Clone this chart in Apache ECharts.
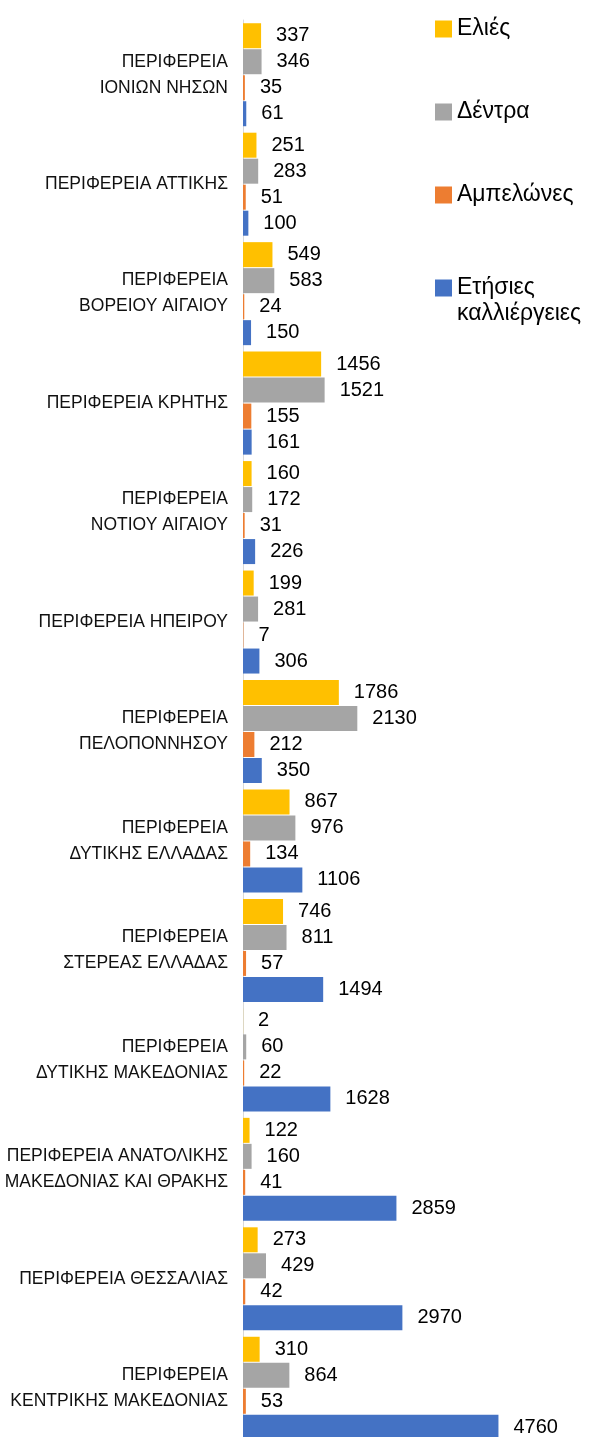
<!DOCTYPE html>
<html>
<head>
<meta charset="utf-8">
<script src="https://cdn.jsdelivr.net/npm/echarts@6/dist/echarts.min.js"></script>
<style>
  html, body { margin: 0; padding: 0; background: #fff; }
  #chart { width: 589px; height: 1437px; }
</style>
</head>
<body>
<div id="chart"></div>
<script>
// Regions, top to bottom
const regions = [
  'ΠΕΡΙΦΕΡΕΙΑ\nΙΟΝΙΩΝ ΝΗΣΩΝ',
  'ΠΕΡΙΦΕΡΕΙΑ ΑΤΤΙΚΗΣ',
  'ΠΕΡΙΦΕΡΕΙΑ\nΒΟΡΕΙΟΥ ΑΙΓΑΙΟΥ',
  'ΠΕΡΙΦΕΡΕΙΑ ΚΡΗΤΗΣ',
  'ΠΕΡΙΦΕΡΕΙΑ\nΝΟΤΙΟΥ ΑΙΓΑΙΟΥ',
  'ΠΕΡΙΦΕΡΕΙΑ ΗΠΕΙΡΟΥ',
  'ΠΕΡΙΦΕΡΕΙΑ\nΠΕΛΟΠΟΝΝΗΣΟΥ',
  'ΠΕΡΙΦΕΡΕΙΑ\nΔΥΤΙΚΗΣ ΕΛΛΑΔΑΣ',
  'ΠΕΡΙΦΕΡΕΙΑ\nΣΤΕΡΕΑΣ ΕΛΛΑΔΑΣ',
  'ΠΕΡΙΦΕΡΕΙΑ\nΔΥΤΙΚΗΣ ΜΑΚΕΔΟΝΙΑΣ',
  'ΠΕΡΙΦΕΡΕΙΑ ΑΝΑΤΟΛΙΚΗΣ\nΜΑΚΕΔΟΝΙΑΣ ΚΑΙ ΘΡΑΚΗΣ',
  'ΠΕΡΙΦΕΡΕΙΑ ΘΕΣΣΑΛΙΑΣ',
  'ΠΕΡΙΦΕΡΕΙΑ\nΚΕΝΤΡΙΚΗΣ ΜΑΚΕΔΟΝΙΑΣ'
];

const seriesNames = ['Ελιές', 'Δέντρα', 'Αμπελώνες', 'Ετήσιες καλλιέργειες'];

const olives   = [337, 251, 549, 1456, 160, 199, 1786, 867, 746, 2, 122, 273, 310];
const trees    = [346, 283, 583, 1521, 172, 281, 2130, 976, 811, 60, 160, 429, 864];
const vineyards = [35, 51, 24, 155, 31, 7, 212, 134, 57, 22, 41, 42, 53];
const annualCrops = [61, 100, 150, 161, 226, 306, 350, 1106, 1494, 1628, 2859, 2970, 4760];

const colors = ['#FFC000', '#A5A5A5', '#ED7D31', '#4472C4'];
const FONT = '"Liberation Sans", Arial, sans-serif';

function barSeries(name, data, color) {
  return {
    name: name,
    type: 'bar',
    data: data,
    barWidth: 25,
    barGap: '4%',
    itemStyle: { color: color },
    label: {
      show: true,
      position: 'right',
      distance: 15,
      fontSize: 20,
      color: '#000',
      fontFamily: FONT
    }
  };
}

// One legend block per series so each entry sits at its own height
function legendItem(name, top, formatter) {
  return {
    data: [name],
    orient: 'vertical',
    left: 435,
    top: top,
    padding: 0,
    icon: 'rect',
    itemWidth: 17,
    itemHeight: 17,
    selectedMode: false,
    formatter: formatter || (n => n),
    textStyle: {
      fontSize: 23,
      lineHeight: 26,
      color: '#000',
      fontFamily: FONT
    }
  };
}

const chart = echarts.init(document.getElementById('chart'), null, { renderer: 'canvas' });

chart.setOption({
  animation: false,
  backgroundColor: '#fff',
  textStyle: { fontFamily: FONT },
  legend: [
    legendItem(seriesNames[0], 16),
    legendItem(seriesNames[1], 99),
    legendItem(seriesNames[2], 182),
    // first line level with the marker, second line below it
    legendItem(seriesNames[3], 249, n => '\n' + n.replace(' ', '\n'))
  ],
  grid: {
    left: 243,
    right: 24,
    top: 20,
    height: 1423,
    containLabel: false,
    outerBoundsMode: 'none'
  },
  xAxis: {
    type: 'value',
    min: 0,
    max: 6000,
    show: false
  },
  yAxis: {
    type: 'category',
    data: regions,
    inverse: true,
    axisLine: { show: true, lineStyle: { color: '#D9D9D9', width: 1 } },
    axisTick: { show: false },
    axisLabel: {
      margin: 15,
      fontSize: 17.5,
      lineHeight: 26,
      color: '#111',
      fontFamily: FONT,
      align: 'right',
      padding: [6, 0, 0, 0]
    }
  },
  series: [
    barSeries(seriesNames[0], olives, colors[0]),
    barSeries(seriesNames[1], trees, colors[1]),
    barSeries(seriesNames[2], vineyards, colors[2]),
    barSeries(seriesNames[3], annualCrops, colors[3])
  ]
});
</script>
</body>
</html>
